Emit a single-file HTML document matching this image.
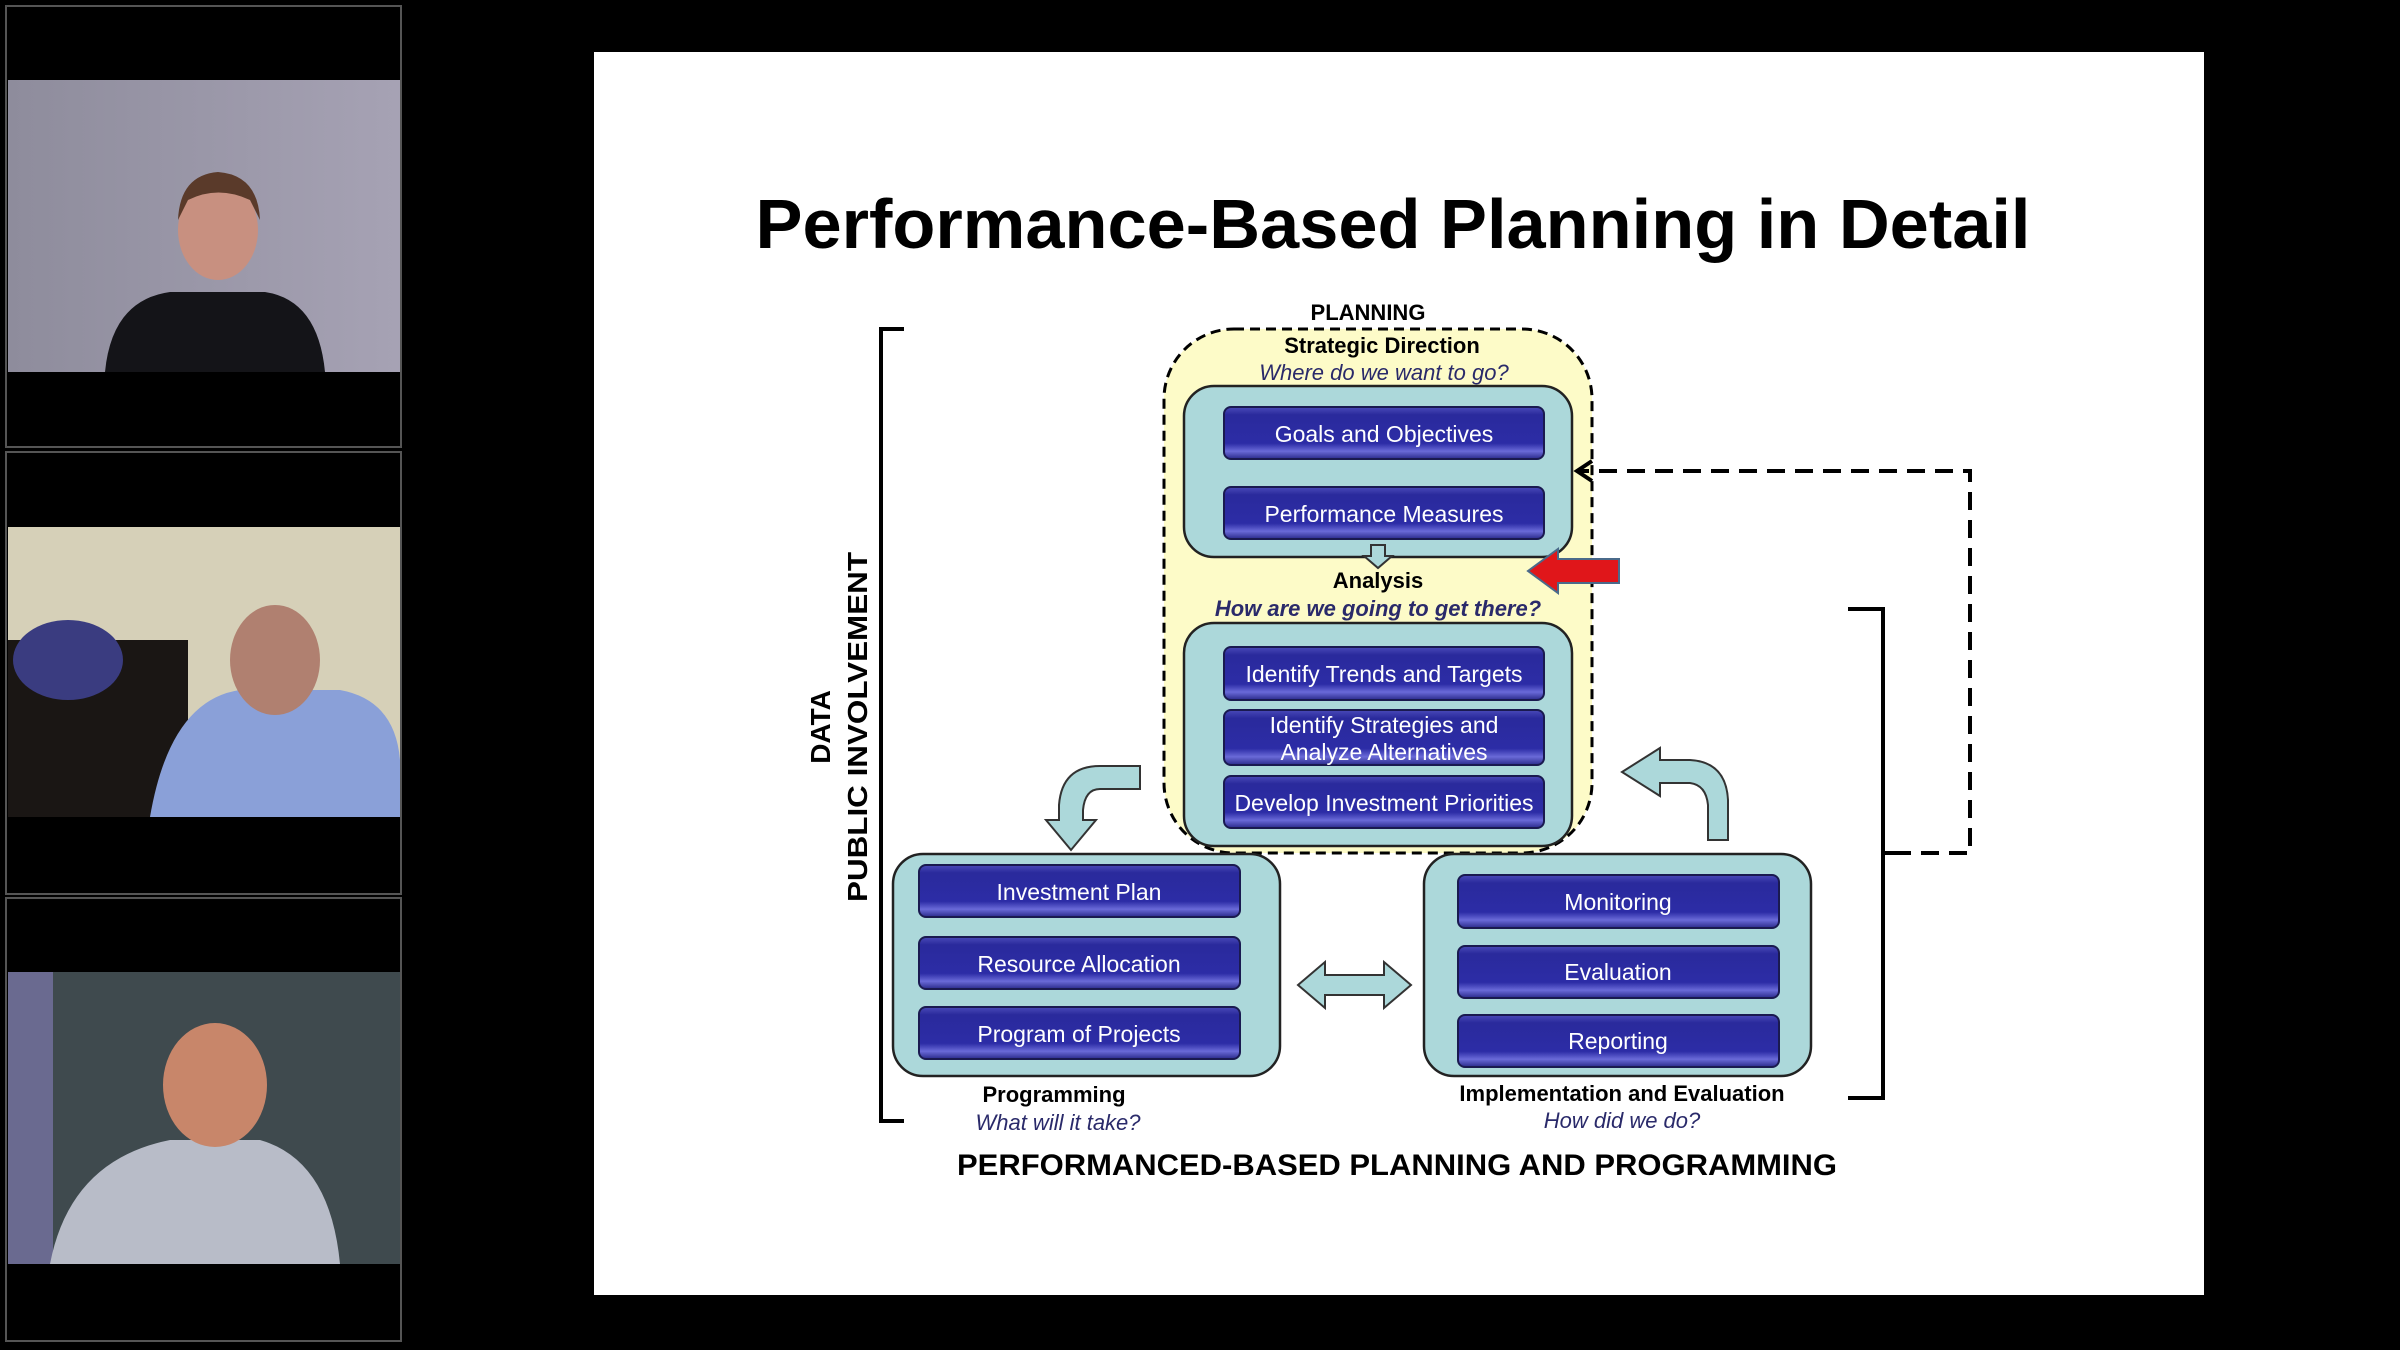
<!DOCTYPE html>
<html><head><meta charset="utf-8"><style>
html,body{margin:0;padding:0;background:#000;width:2400px;height:1350px;overflow:hidden}
svg{display:block}
text{font-family:"Liberation Sans","DejaVu Sans",sans-serif}
</style></head><body>
<svg width="2400" height="1350" viewBox="0 0 2400 1350" xmlns="http://www.w3.org/2000/svg">
<defs>
<linearGradient id="btn" x1="0" y1="0" x2="0" y2="1">
<stop offset="0" stop-color="#4a4ab8"/><stop offset="0.15" stop-color="#2a2a9c"/><stop offset="0.7" stop-color="#2c2ca6"/><stop offset="0.85" stop-color="#6a6ad8"/><stop offset="1" stop-color="#2a2a8a"/>
</linearGradient>
<linearGradient id="w1" x1="0" y1="0" x2="1" y2="0"><stop offset="0" stop-color="#8e8c9c"/><stop offset="1" stop-color="#a6a2b4"/></linearGradient>
</defs>
<rect width="2400" height="1350" fill="#000"/>
<g stroke="#555" stroke-width="2" fill="#000">
<rect x="6" y="6" width="395" height="441"/>
<rect x="6" y="452" width="395" height="442"/>
<rect x="6" y="898" width="395" height="443"/>
</g>
<rect x="8" y="80" width="392" height="292" fill="url(#w1)"/>
<ellipse cx="218" cy="230" rx="40" ry="50" fill="#c89080"/>
<path d="M178 220 Q180 175 218 172 Q258 175 260 220 L250 200 Q218 185 188 200Z" fill="#5a3a2a"/>
<path d="M105 372 Q112 300 170 292 L265 292 Q318 300 325 372Z" fill="#141418"/>
<rect x="8" y="527" width="392" height="290" fill="#d6d0b8"/>
<rect x="8" y="640" width="180" height="177" fill="#1a1614"/>
<ellipse cx="68" cy="660" rx="55" ry="40" fill="#3a3c80"/>
<path d="M150 817 Q170 700 240 690 L340 690 Q395 700 400 760 L400 817Z" fill="#8aa0d8"/>
<ellipse cx="275" cy="660" rx="45" ry="55" fill="#b08070"/>
<rect x="8" y="972" width="392" height="292" fill="#3f4a4e"/>
<rect x="8" y="972" width="45" height="292" fill="#6a6a90"/>
<path d="M50 1264 Q70 1160 170 1140 L260 1140 Q330 1160 340 1264Z" fill="#b8bcc8"/>
<ellipse cx="215" cy="1085" rx="52" ry="62" fill="#c8866a"/>
<rect x="594" y="52" width="1610" height="1243" fill="#fff"/>
<text x="1393" y="248" font-size="70" font-weight="bold" text-anchor="middle" textLength="1275" lengthAdjust="spacingAndGlyphs" fill="#000">Performance-Based Planning in Detail</text>
<path d="M904 329 L881 329 L881 1121 L904 1121" fill="none" stroke="#000" stroke-width="4"/>
<text transform="translate(830 727) rotate(-90)" font-size="28" font-weight="bold" text-anchor="middle">DATA</text>
<text transform="translate(867 727) rotate(-90)" font-size="28" font-weight="bold" text-anchor="middle" textLength="350" lengthAdjust="spacingAndGlyphs">PUBLIC INVOLVEMENT</text>
<path d="M1848 609 L1883 609 L1883 853 L1893 853 M1883 853 L1883 1098 L1848 1098" fill="none" stroke="#000" stroke-width="4"/>
<text x="1368" y="320" font-size="22" font-weight="bold" text-anchor="middle">PLANNING</text>
<rect x="1164" y="329" width="428" height="524" rx="70" fill="#fdfbc8" stroke="#000" stroke-width="3" stroke-dasharray="10 6"/>
<path d="M1893 853 L1970 853 L1970 471 L1580 471" fill="none" stroke="#000" stroke-width="4" stroke-dasharray="18 10"/>
<path d="M1592 461 L1577 471 L1592 481" fill="none" stroke="#000" stroke-width="4"/>
<text x="1382" y="353" font-size="22" font-weight="bold" text-anchor="middle">Strategic Direction</text>
<text x="1384" y="380" font-size="22" font-style="italic" text-anchor="middle" fill="#2a2a6a">Where do we want to go?</text>
<rect x="1184" y="386" width="388" height="171" rx="30" fill="#acd8da" stroke="#222" stroke-width="2.5"/>
<path d="M1371 545 L1385 545 L1385 556 L1392 556 L1378 568 L1364 556 L1371 556Z" fill="#acd8da" stroke="#333" stroke-width="2"/>
<text x="1378" y="588" font-size="22" font-weight="bold" text-anchor="middle">Analysis</text>
<text x="1378" y="616" font-size="22" font-weight="bold" font-style="italic" text-anchor="middle" fill="#2a2a6a">How are we going to get there?</text>
<rect x="1184" y="623" width="388" height="223" rx="30" fill="#acd8da" stroke="#222" stroke-width="2.5"/>
<path d="M1619 559 L1558 559 L1558 549 L1528 571 L1558 593 L1558 583 L1619 583Z" fill="#e0161a" stroke="#4a6a8a" stroke-width="2"/>
<rect x="893" y="854" width="387" height="222" rx="30" fill="#acd8da" stroke="#222" stroke-width="2.5"/>
<rect x="1424" y="854" width="387" height="222" rx="30" fill="#acd8da" stroke="#222" stroke-width="2.5"/>
<g stroke="#1a1a50" stroke-width="2" fill="url(#btn)">
<rect x="1224" y="407" width="320" height="52" rx="7"/>
<rect x="1224" y="487" width="320" height="52" rx="7"/>
<rect x="1224" y="647" width="320" height="53" rx="7"/>
<rect x="1224" y="710" width="320" height="55" rx="7"/>
<rect x="1224" y="776" width="320" height="52" rx="7"/>
<rect x="919" y="865" width="321" height="52" rx="7"/>
<rect x="919" y="937" width="321" height="52" rx="7"/>
<rect x="919" y="1007" width="321" height="52" rx="7"/>
<rect x="1458" y="875" width="321" height="53" rx="7"/>
<rect x="1458" y="946" width="321" height="52" rx="7"/>
<rect x="1458" y="1015" width="321" height="52" rx="7"/>
</g>
<g fill="#fff" font-size="23" text-anchor="middle">
<text x="1384" y="442">Goals and Objectives</text>
<text x="1384" y="522">Performance Measures</text>
<text x="1384" y="682">Identify Trends and Targets</text>
<text x="1384" y="733">Identify Strategies and</text>
<text x="1384" y="760">Analyze Alternatives</text>
<text x="1384" y="811">Develop Investment Priorities</text>
<text x="1079" y="900">Investment Plan</text>
<text x="1079" y="972">Resource Allocation</text>
<text x="1079" y="1042">Program of Projects</text>
<text x="1618" y="910">Monitoring</text>
<text x="1618" y="980">Evaluation</text>
<text x="1618" y="1049">Reporting</text>
</g>
<path d="M1140 766 L1140 789 L1100 789 Q1085 789 1083 810 L1083 820 L1096 820 L1071 850 L1046 820 L1059 820 L1059 805 Q1062 766 1100 766Z" fill="#acd8da" stroke="#333" stroke-width="2"/>
<path d="M1708 840 L1728 840 L1728 800 Q1726 762 1690 760 L1660 760 L1660 748 L1622 772 L1660 796 L1660 783 L1690 783 Q1706 785 1708 805Z" fill="#acd8da" stroke="#333" stroke-width="2"/>
<path d="M1298 985 L1325 962 L1325 975 L1384 975 L1384 962 L1411 985 L1384 1008 L1384 995 L1325 995 L1325 1008Z" fill="#acd8da" stroke="#333" stroke-width="2"/>
<text x="1054" y="1102" font-size="22" font-weight="bold" text-anchor="middle">Programming</text>
<text x="1058" y="1130" font-size="22" font-style="italic" text-anchor="middle" fill="#2a2a6a">What will it take?</text>
<text x="1622" y="1101" font-size="22" font-weight="bold" text-anchor="middle">Implementation and Evaluation</text>
<text x="1622" y="1128" font-size="22" font-style="italic" text-anchor="middle" fill="#2a2a6a">How did we do?</text>
<text x="1397" y="1175" font-size="30" font-weight="bold" text-anchor="middle" textLength="880" lengthAdjust="spacingAndGlyphs">PERFORMANCED-BASED PLANNING AND PROGRAMMING</text>
</svg>
</body></html>
